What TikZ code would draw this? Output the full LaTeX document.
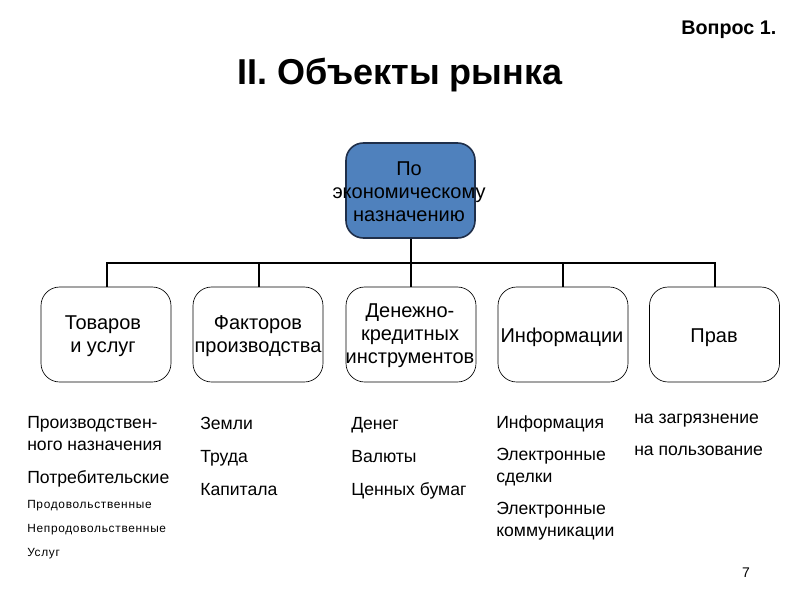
\documentclass[tikz,border=0pt]{standalone}
\usepackage{fontspec}
\setmainfont{Liberation Sans}
\begin{document}
\begin{tikzpicture}[x=0.75pt,y=-0.75pt,
  catbox/.style={draw=black, line width=0.5pt, rounded corners=14pt, minimum width=130*0.75pt, minimum height=95*0.75pt, inner sep=0pt},
  boxtext/.style={font=\fontsize{15}{17.4}\selectfont, align=center, inner sep=0pt},
  itemtext/.style={font=\fontsize{13.2}{16.5}\selectfont, align=left, inner sep=0pt},
  smalltext/.style={font=\fontsize{8.9}{10}\selectfont\addfontfeature{LetterSpace=6}, anchor=base west, inner sep=0pt},
  conn/.style={line width=1.5pt}
]
\definecolor{topblue}{HTML}{4F81BD}
\definecolor{topedge}{HTML}{1F2F4A}
\useasboundingbox (0,0) rectangle (800,600);
\fill[white] (0,0) rectangle (800,600);
% title
\node[font=\fontsize{14.8}{17}\selectfont\bfseries, anchor=east] (q) at (781,30) {Вопрос 1.};
\node[font=\fontsize{27}{30}\selectfont\bfseries] (title) at (400,75) {II. Объекты рынка};
% top box
\node[draw=topedge, line width=1.2pt, fill=topblue, rounded corners=13pt, minimum width=129*0.75pt, minimum height=95*0.75pt, inner sep=0pt] (top) at (410.5,190.5) {};
\node[boxtext] (toptext) at (409,191.5) {По\\экономическому\\назначению};
% category boxes
\node[catbox] (b1) at (106,334.5) {};
\node[catbox] (b2) at (258,334.5) {};
\node[catbox] (b3) at (411,334.5) {};
\node[catbox] (b4) at (563,334.5) {};
\node[catbox] (b5) at (714.5,334.5) {};
\node[boxtext] (t1) at (103,336) {Товаров\\ и услуг};
\node[boxtext] (t2) at (258,336) {Факторов\\производства};
\node[boxtext] (t3) at (410,335.5) {Денежно-\\кредитных\\инструментов};
\node[boxtext, anchor=base] (t4) at (562,342) {Информации};
\node[boxtext, anchor=base] (t5) at (714,342) {Прав};
% connectors
\coordinate (bus) at (410.5,263);
\coordinate (j1) at (107,263);
\coordinate (j2) at (259,263);
\coordinate (j4) at (563,263);
\coordinate (j5) at (715,263);
\coordinate (e1) at (107,287);
\coordinate (e2) at (259,287);
\coordinate (e3) at (410.5,287);
\coordinate (e4) at (563,287);
\coordinate (e5) at (715,287);
\draw[conn] (top.south) -- (bus);
\draw[conn] (e1) -- (j1) -- (j5) -- (e5);
\draw[conn] (j2) -- (e2);
\draw[conn] (bus) -- (e3);
\draw[conn] (j4) -- (e4);
% lists
\node[itemtext, anchor=west] (l1a) at (27,434) {Производствен-\\ного назначения};
\node[itemtext, anchor=base west] (l1b) at (27,483) {Потребительские};
\node[smalltext] (l1c) at (27,508) {Продовольственные};
\node[smalltext] (l1d) at (27,532) {Непродовольственные};
\node[smalltext] (l1e) at (27,556) {Услуг};
\node[itemtext, anchor=base west] (l2a) at (200,429) {Земли};
\node[itemtext, anchor=base west] (l2b) at (200,462) {Труда};
\node[itemtext, anchor=base west] (l2c) at (200,495) {Капитала};
\node[itemtext, anchor=base west] (l3a) at (351,429) {Денег};
\node[itemtext, anchor=base west] (l3b) at (351,462) {Валюты};
\node[itemtext, anchor=base west] (l3c) at (351,495) {Ценных бумаг};
\node[itemtext, anchor=base west] (l4a) at (496,428) {Информация};
\node[itemtext, anchor=west] (l4b) at (496,467.5) {Электронные\\сделки};
\node[itemtext, anchor=west] (l4c) at (496,521.5) {Электронные\\коммуникации};
\node[itemtext, anchor=base west] (l5a) at (634,423) {на загрязнение};
\node[itemtext, anchor=base west] (l5b) at (634,455) {на пользование};
\node[font=\fontsize{10.5}{12}\selectfont] (page) at (746,573) {7};
\end{tikzpicture}
\end{document}
